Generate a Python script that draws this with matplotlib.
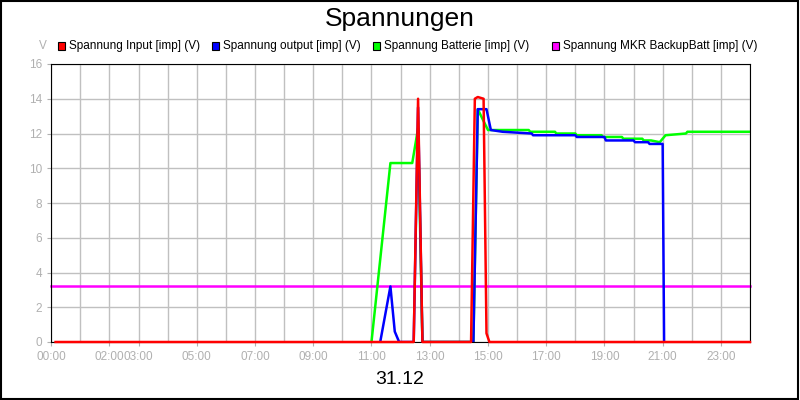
import matplotlib
matplotlib.use("Agg")
import matplotlib.pyplot as plt
from matplotlib.patches import Rectangle
from matplotlib import font_manager

names = {f.name for f in font_manager.fontManager.ttflist}
NARROW = "Liberation Sans Narrow" if "Liberation Sans Narrow" in names else "Liberation Sans"

# hours of day, values in V
red_t = [0.15, 12.45, 12.6, 12.75, 14.42, 14.55, 14.65, 14.85, 14.95, 15.05, 24.0]
red_v = [0, 0, 14.0, 0, 0, 14.0, 14.1, 14.0, 0.5, 0, 0]
blue_t = [11.3, 11.65, 11.8, 11.95, 12.45, 12.6, 12.75, 14.5, 14.65, 14.95, 15.1, 15.5, 16.5, 16.55, 18.0, 18.05, 19.0, 19.05, 20.0, 20.05, 20.5, 20.55, 21.0, 21.05]
blue_v = [0, 3.2, 0.6, 0, 0, 13.5, 0, 0, 13.4, 13.4, 12.2, 12.1, 12.0, 11.9, 11.9, 11.8, 11.8, 11.6, 11.6, 11.5, 11.5, 11.4, 11.4, 0]
green_t = [11.0, 11.65, 12.4, 12.6, 12.75, 14.5, 14.65, 15.0, 16.4, 16.45, 17.3, 17.35, 18.0, 18.05, 18.9, 18.95, 19.6, 19.65, 20.3, 20.35, 20.6, 20.9, 21.1, 21.8, 21.85, 24.0]
green_v = [0, 10.3, 10.3, 12.3, 0, 0, 13.4, 12.2, 12.2, 12.1, 12.1, 12.0, 12.0, 11.9, 11.9, 11.8, 11.8, 11.7, 11.7, 11.6, 11.6, 11.5, 11.9, 12.0, 12.1, 12.1]
mag_t = [0.0, 24.0]
mag_v = [3.2, 3.2]
tick_hours = [0, 2, 3, 5, 7, 9, 11, 13, 15, 17, 19, 21, 23]
tick_labels = ["00:00", "02:00", "03:00", "05:00", "07:00", "09:00", "11:00", "13:00", "15:00", "17:00", "19:00", "21:00", "23:00"]
series = ["Spannung Input [imp] (V)", "Spannung output [imp] (V)", "Spannung Batterie [imp] (V)", "Spannung MKR BackupBatt [imp] (V)"]
colors = ["#ff0000", "#0000ff", "#00ff00", "#ff00ff"]

fig = plt.figure(figsize=(8, 4), dpi=100)
fig.patches.append(Rectangle((0.001, 0.002), 0.997, 0.996, transform=fig.transFigure, fill=False, ec="black", lw=1.5))
ax = fig.add_axes([0.064, 0.145, 0.8735, 0.695])
ax.set_xlim(0, 24)
ax.set_ylim(0, 16)
ax.set_xticks(range(0, 25), minor=True)
ax.set_xticks(tick_hours)
ax.set_xticklabels(tick_labels, family=NARROW)
ax.set_yticks(range(0, 17, 2))
ax.set_yticklabels([str(v) for v in range(0, 17, 2)], family=NARROW)
ax.grid(True, which="both", color="#c0c0c0", lw=1)
ax.tick_params(colors="#b0b0b0", labelsize=8.5, length=3)
ax.tick_params(which="minor", length=0)
for s in ax.spines.values():
    s.set_color("black")
ax.set_axisbelow(True)

ax.plot(mag_t, mag_v, color=colors[3], lw=1.8, clip_on=False)
ax.plot(green_t, green_v, color=colors[2], lw=1.8)
ax.plot(blue_t, blue_v, color=colors[1], lw=1.8)
ax.plot(red_t, red_v, color=colors[0], lw=1.8, clip_on=False, zorder=5)

fig.text(0.5, 0.952, "Spannungen", ha="center", va="center", fontsize=19, family="Liberation Sans")
fig.text(0.5, 0.05, "31.12", ha="center", va="center", fontsize=14, family="Liberation Sans")
fig.text(0.053, 0.885, "V", ha="center", va="center", fontsize=8.5, color="#b0b0b0", family=NARROW)

xs = [0.072, 0.265, 0.466, 0.69]
for x, lab, c in zip(xs, series, colors):
    fig.patches.append(Rectangle((x, 0.876), 0.009, 0.02, transform=fig.transFigure, fc=c, ec="black", lw=0.8))
    fig.text(x + 0.014, 0.886, lab, ha="left", va="center", fontsize=8.5, family=NARROW)

fig.savefig("out.png", dpi=100)
